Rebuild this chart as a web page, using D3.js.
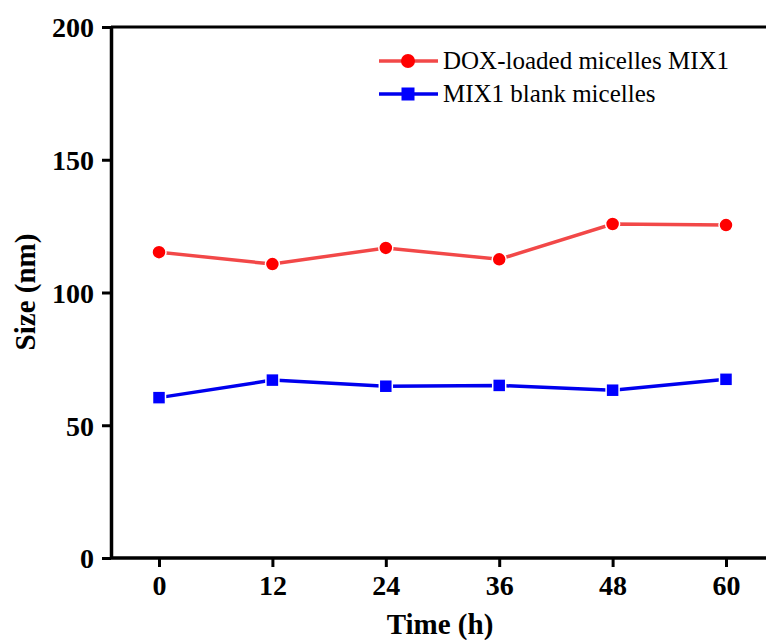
<!DOCTYPE html>
<html><head><meta charset="utf-8">
<script src="https://cdn.jsdelivr.net/npm/d3@7/dist/d3.min.js"></script>
<style>body{margin:0;background:#fff}svg{display:block}</style>
</head><body>
<script>
const times = [0, 12, 24, 36, 48, 60];
const doxLoaded = [115.2, 110.7, 116.8, 112.5, 125.8, 125.4];
const blank = [60.4, 67.0, 64.7, 65.0, 63.2, 67.3];
const xTicks = [0, 12, 24, 36, 48, 60];
const yTicks = [0, 50, 100, 150, 200];
const seriesNames = ["DOX-loaded micelles MIX1", "MIX1 blank micelles"];

const W = 766, H = 640;
const svg = d3.select("body").append("svg").attr("width", W).attr("height", H);
const mLeft = 111, mTop = 27, mBottom = 558;
const x = d3.scaleLinear().domain([-5.08, 65]).range([mLeft, mLeft + (70.08) * 113.4 / 12]);
const y = d3.scaleLinear().domain([0, 200]).range([mBottom, mTop]);
const font = "'Liberation Serif','Times New Roman',serif";

// top frame line
svg.append("line").attr("x1", mLeft).attr("x2", W + 10).attr("y1", mTop).attr("y2", mTop)
  .attr("stroke", "#000").attr("stroke-width", 3);

const xAxis = svg.append("g").attr("transform", `translate(0,${mBottom})`)
  .call(d3.axisBottom(x).tickValues(xTicks).tickSize(9).tickPadding(8).tickSizeOuter(0));
const yAxis = svg.append("g").attr("transform", `translate(${mLeft},0)`)
  .call(d3.axisLeft(y).tickValues(yTicks).tickSize(9).tickPadding(8).tickSizeOuter(0));
[xAxis, yAxis].forEach(g => {
  g.select(".domain").attr("stroke-width", 3.5);
  g.selectAll(".tick line").attr("stroke-width", 3);
  g.selectAll("text").attr("font-family", font).attr("font-weight", "bold").attr("font-size", 28).attr("fill", "#000");
});
xAxis.select(".domain").attr("d", `M${mLeft - 1},0H${W + 10}`);
yAxis.selectAll("text").attr("dy", "0.35em");

svg.append("text").attr("x", 440).attr("y", 634).attr("text-anchor", "middle")
  .attr("font-family", font).attr("font-weight", "bold").attr("font-size", 29).text("Time (h)");
svg.append("text").attr("transform", "translate(35,292) rotate(-90)").attr("text-anchor", "middle")
  .attr("font-family", font).attr("font-weight", "bold").attr("font-size", 29).text("Size (nm)");

const line = d3.line().x((d, i) => x(times[i])).y(d => y(d));
svg.append("path").datum(doxLoaded).attr("d", line).attr("fill", "none")
  .attr("stroke", "#f24848").attr("stroke-width", 3.5);
svg.append("path").datum(blank).attr("d", line).attr("fill", "none")
  .attr("stroke", "#0000ee").attr("stroke-width", 3.5);

svg.selectAll(".c").data(doxLoaded).enter().append("circle")
  .attr("cx", (d, i) => x(times[i])).attr("cy", d => y(d)).attr("r", 7)
  .attr("fill", "#ff0000").attr("stroke", "#fff").attr("stroke-width", 1.5);
svg.selectAll(".s").data(blank).enter().append("rect")
  .attr("x", (d, i) => x(times[i]) - 6.5).attr("y", d => y(d) - 6.5).attr("width", 13).attr("height", 13)
  .attr("fill", "#0000ff").attr("stroke", "#fff").attr("stroke-width", 1.5);

// legend
const lg = svg.append("g");
const ly = [61, 94];
lg.append("line").attr("x1", 379).attr("x2", 438).attr("y1", ly[0]).attr("y2", ly[0]).attr("stroke", "#f24848").attr("stroke-width", 3.5);
lg.append("circle").attr("cx", 408).attr("cy", ly[0]).attr("r", 7).attr("fill", "#ff0000");
lg.append("line").attr("x1", 379).attr("x2", 438).attr("y1", ly[1]).attr("y2", ly[1]).attr("stroke", "#0000ee").attr("stroke-width", 3.5);
lg.append("rect").attr("x", 401.5).attr("y", ly[1] - 6.5).attr("width", 13).attr("height", 13).attr("fill", "#0000ff");
seriesNames.forEach((n, i) => {
  lg.append("text").attr("x", 443).attr("y", ly[i]).attr("dy", "0.33em")
    .attr("font-family", font).attr("font-size", 25).attr("fill", "#000").text(n);
});
</script>
</body></html>
